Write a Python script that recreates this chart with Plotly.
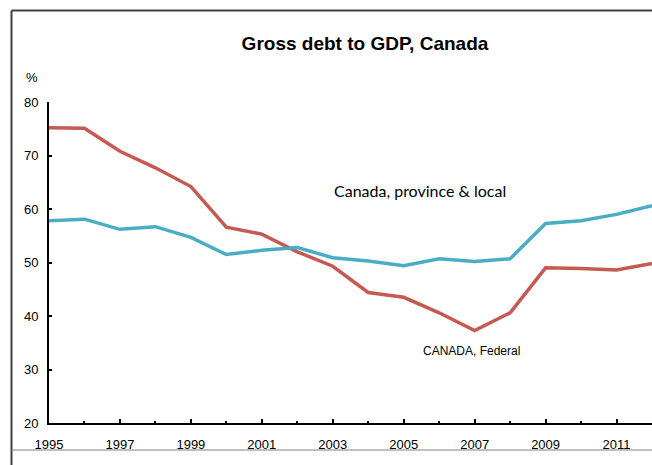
import plotly.graph_objects as go

years = list(range(1995, 2013))
federal = [75.2, 75.1, 70.8, 67.7, 64.2, 56.6, 55.3, 52.0, 49.3, 44.4, 43.5, 40.6, 37.3, 40.6, 49.0, 48.9, 48.6, 49.8]
prov_local = [57.8, 58.1, 56.2, 56.7, 54.7, 51.5, 52.3, 52.8, 50.9, 50.3, 49.4, 50.7, 50.2, 50.7, 57.3, 57.8, 59.0, 60.6]
major_ticks = [1995, 1997, 1999, 2001, 2003, 2005, 2007, 2009, 2011]
y_ticks = [20, 30, 40, 50, 60, 70, 80]

FONT = "Liberation Sans, Arial, sans-serif"

fig = go.Figure()
fig.add_trace(go.Scatter(x=years, y=federal, mode="lines", name="CANADA, Federal",
                         line=dict(color="#C55A52", width=3.5)))
fig.add_trace(go.Scatter(x=years, y=prov_local, mode="lines", name="Canada, province & local",
                         line=dict(color="#4BACC6", width=3.5)))

fig.update_layout(
    width=652, height=465,
    margin=dict(l=49, r=0, t=102, b=42),
    paper_bgcolor="white", plot_bgcolor="white",
    showlegend=False,
    font=dict(family=FONT, color="black"),
    title=dict(text="<b>Gross debt to GDP, Canada</b>", x=0.524, xref="paper", xanchor="center",
               y=1 - 43 / 465, yanchor="middle", font=dict(size=19, color="black", family=FONT)),
    xaxis=dict(range=[1995, 2012], tickvals=major_ticks, ticks="inside", ticklen=4, tickwidth=1.5,
               tickcolor="black", showline=True, linecolor="black", linewidth=2, showgrid=False,
               zeroline=False, tickfont=dict(size=13, family=FONT), ticklabelstandoff=8,
               minor=dict(dtick=1, tick0=1995, ticks="inside", ticklen=2, tickcolor="black", tickwidth=1.5)),
    yaxis=dict(range=[20, 80], tickvals=y_ticks, ticks="inside", ticklen=3, tickwidth=2,
               tickcolor="black", showline=True, linecolor="black", linewidth=2, showgrid=False,
               zeroline=False, tickfont=dict(size=13, family=FONT), ticklabelstandoff=6),
)

fig.add_annotation(text="%", xref="paper", yref="paper", x=(32 - 49) / 603, y=(423 - 77) / 321,
                   showarrow=False, font=dict(size=13, family=FONT), xanchor="center", yanchor="middle")
fig.add_annotation(text="Canada, province & local", x=2002.98, y=63.55, showarrow=False,
                   xanchor="left", yanchor="middle", font=dict(size=16, family="Lato, Open Sans, sans-serif"))
fig.add_annotation(text="CANADA, Federal", x=2006.91, y=33.5, showarrow=False,
                   xanchor="center", yanchor="middle", font=dict(size=12, family=FONT))

# outer frame
x_left = (11.5 - 49) / 603
y_top = (423 - 10.5) / 321
y_bot = (423 - 450) / 321
fig.add_shape(type="line", xref="paper", yref="paper", x0=x_left, x1=1.0, y0=y_top, y1=y_top,
              line=dict(color="#404040", width=2))
fig.add_shape(type="line", xref="paper", yref="paper", x0=x_left, x1=x_left, y0=y_top, y1=(423 - 470) / 321,
              line=dict(color="#404040", width=2))
fig.add_shape(type="line", xref="paper", yref="paper", x0=x_left, x1=1.0, y0=y_bot, y1=y_bot,
              line=dict(color="#808080", width=1))

fig.write_html("out.html")
